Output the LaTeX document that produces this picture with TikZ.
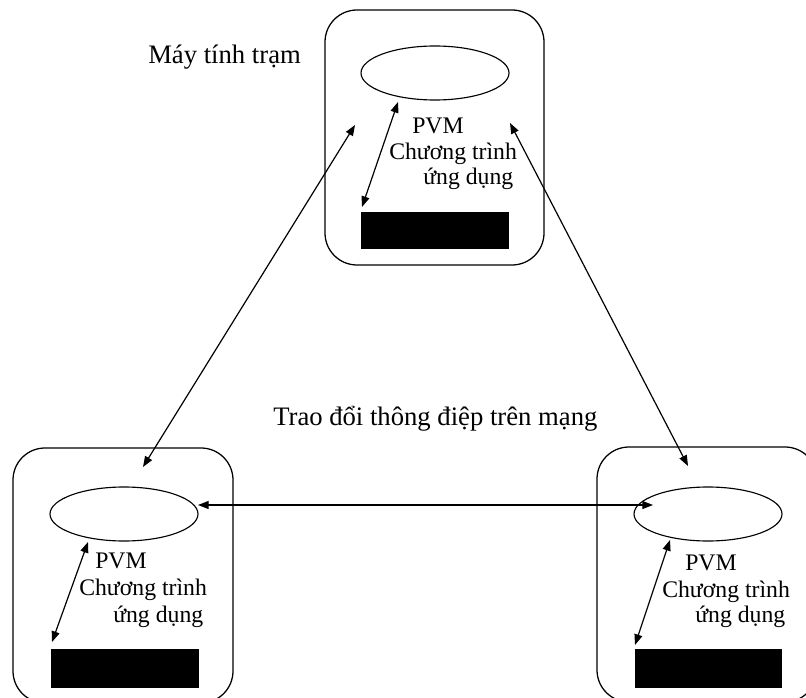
\documentclass[tikz,border=0pt]{standalone}
\usepackage{fontspec}
\setmainfont{Liberation Serif}
\usetikzlibrary{arrows.meta,shapes.geometric}

\tikzset{
  host/.style={draw, line width=0.95pt, rounded corners=24pt},
  daemon/.style={draw, line width=0.85pt, ellipse, minimum width=111pt, minimum height=40.5pt, inner sep=0pt},
  appblock/.style={fill=black, draw=none},
  link/.style={line width=0.9pt, {Triangle[length=8pt,width=6pt]}-{Triangle[length=8pt,width=6pt]}},
  inner/.style={anchor=base west, inner sep=0pt, font=\fontsize{17.8}{21}\selectfont},
  caption/.style={anchor=base west, inner sep=0pt, font=\fontsize{20}{24}\selectfont}
}

\begin{document}
\begin{tikzpicture}[x=0.75pt, y=-0.75pt]
  \useasboundingbox (0,0) rectangle (806,698);
  \clip (0,0) rectangle (806,698);

  % workstation hosts
  \draw[host] (325,10) rectangle (544,265);
  \draw[host] (13,448) rectangle (233,703);
  \draw[host] (597,447) rectangle (817,702);

  % PVM daemons
  \node[daemon] (dTop) at (435,73) {};
  \node[daemon] (dLeft) at (124,514) {};
  \node[daemon] (dRight) at (708,514) {};

  % application programs
  \fill[appblock] (361,212) rectangle (509,249);
  \fill[appblock] (51,649) rectangle (199,688);
  \fill[appblock] (635,649) rectangle (782,688);

  % labels inside hosts
  \node[inner] (pvmTop) at (412,134) {PVM};
  \node[inner] (progTop) at (389,160) {Chương trình};
  \node[inner] (appTop) at (423,185) {ứng dụng};

  \node[inner] (pvmLeft) at (95,568) {PVM};
  \node[inner] (progLeft) at (79,595) {Chương trình};
  \node[inner] (appLeft) at (113,622) {ứng dụng};

  \node[inner] (pvmRight) at (685,570) {PVM};
  \node[inner] (progRight) at (662,597) {Chương trình};
  \node[inner] (appRight) at (695,622) {ứng dụng};

  % captions
  \node[caption] (station) at (148,64) {Máy tính trạm};
  \node[caption] (network) at (273,425) {Trao đổi thông điệp trên mạng};

  % connector end points
  \coordinate (tA) at (398,102);
  \coordinate (tB) at (362,207);
  \coordinate (lA) at (88,542);
  \coordinate (lB) at (52,642);
  \coordinate (rA) at (670,540);
  \coordinate (rB) at (635,645);
  \coordinate (tL) at (355,125);
  \coordinate (bL) at (143,467);
  \coordinate (tR) at (510,123);
  \coordinate (bR) at (688,466);
  \coordinate (hL) at (198,505);
  \coordinate (hR) at (653,505);

  % daemon <-> application
  \draw[link] (tA) -- (tB);
  \draw[link] (lA) -- (lB);
  \draw[link] (rA) -- (rB);

  % message exchange over the network
  \draw[link] (tL) -- (bL);
  \draw[link] (tR) -- (bR);
  \draw[link] (hL) -- (hR);
\end{tikzpicture}
\end{document}
